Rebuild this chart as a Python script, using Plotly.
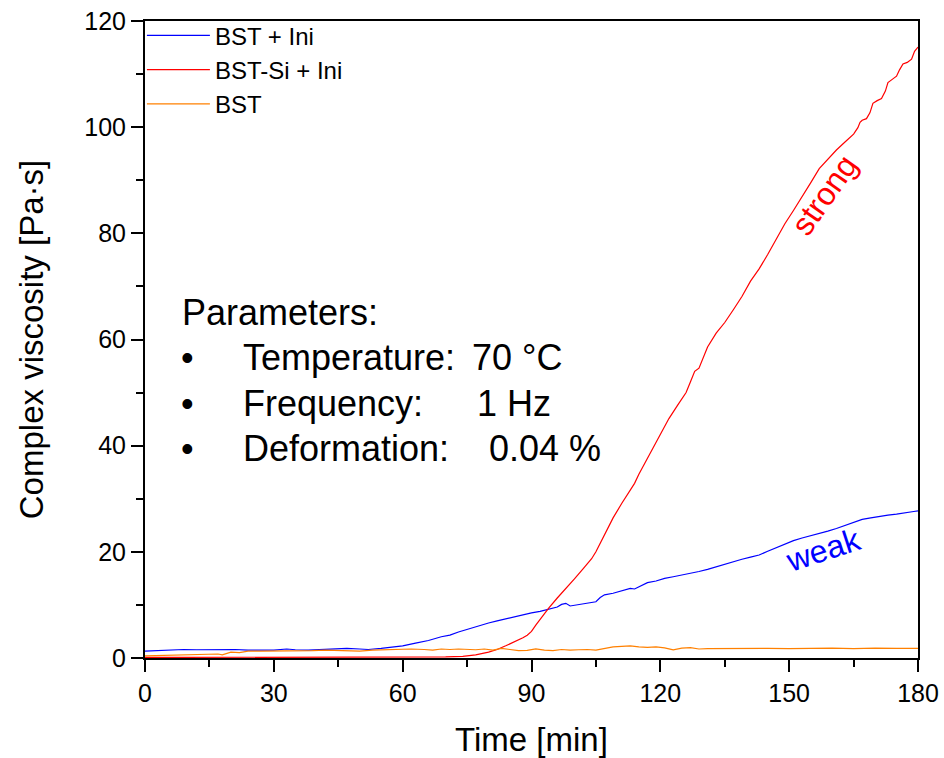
import plotly.graph_objects as go

# ---- data ----
t_blue = [0, 3, 6, 9, 12, 15, 18, 21, 24, 27, 30, 33, 35, 38, 41, 44, 47, 50, 52, 55, 57, 60,
          63, 66, 69, 71, 73, 75, 78, 80, 82, 84, 86, 88, 90, 92, 94, 96, 97, 98, 99, 101, 103,
          105, 106, 107, 109, 111, 113, 114, 115, 117, 119, 121, 123, 125, 127, 129, 131, 133,
          135, 137, 139, 141, 143, 145, 147, 149, 151, 153, 155, 157, 159, 161, 163, 165, 167,
          169, 171, 173, 175, 177, 179, 180]
v_blue = [1.3, 1.4, 1.5, 1.6, 1.55, 1.6, 1.55, 1.6, 1.5, 1.45, 1.5, 1.7, 1.55, 1.5, 1.6, 1.7,
          1.8, 1.7, 1.6, 1.8, 2.0, 2.3, 2.8, 3.3, 4.0, 4.3, 4.9, 5.4, 6.2, 6.6, 7.0, 7.4, 7.7,
          8.1, 8.5, 8.8, 9.2, 9.6, 10.1, 10.3, 9.8, 10.1, 10.3, 10.6, 11.4, 11.9, 12.2, 12.6,
          13.1, 13.0, 13.4, 14.2, 14.5, 15.0, 15.3, 15.6, 16.0, 16.3, 16.7, 17.2, 17.6, 18.1,
          18.6, 19.0, 19.4, 20.1, 20.8, 21.4, 22.1, 22.6, 23.0, 23.4, 23.9, 24.4, 25.0, 25.6,
          26.1, 26.4, 26.7, 26.9, 27.1, 27.4, 27.6, 27.7]

t_red = [0, 10, 20, 30, 40, 50, 60, 65, 70, 74, 77, 80, 82, 84, 86, 88, 89, 90, 91, 92, 94, 96,
         98, 100, 102, 104, 105, 106, 107, 109, 111, 113, 114, 115, 117, 119, 120, 122, 124, 126,
         127, 128, 129, 130, 131, 133, 135, 137, 139, 141, 143, 145, 147, 149, 151, 153, 155,
         157, 159, 161, 163, 165, 166, 166.5, 167, 168, 168.8, 169.5, 170.5, 171.5, 172.4, 173,
         174, 175, 175.7, 176.5, 177.5, 178.5, 179.2, 180]
v_red = [0.1, 0.1, 0.1, 0.1, 0.1, 0.1, 0.1, 0.15, 0.2, 0.3, 0.6, 1.1, 1.6, 2.3, 3.0, 3.8, 4.3,
         5.0, 6.2, 7.3, 9.4, 11.3, 13.0, 14.9, 16.8, 18.7, 20.0, 21.6, 23.3, 26.4, 29.1, 31.6,
         32.9, 34.6, 37.6, 40.6, 42.3, 45.1, 47.6, 50.0, 52.0, 54.0, 54.6, 56.5, 58.6, 61.2,
         63.2, 65.6, 68.1, 71.0, 73.3, 76.0, 78.8, 81.8, 84.3, 86.8, 89.5, 92.2, 94.0, 95.7,
         97.2, 98.7, 99.9, 100.9, 101.3, 101.6, 102.7, 104.5, 105.0, 105.4, 106.8, 108.4, 109.0,
         109.6, 110.8, 111.9, 112.2, 112.8, 114.3, 115.1]

t_orange = [0, 4, 8, 12, 15, 17, 18, 20, 22, 24, 27, 30, 33, 36, 39, 42, 45, 48, 50, 53, 56, 59,
            62, 65, 67, 69, 71, 73, 75, 77, 79, 81, 83, 85, 87, 89, 91, 93, 95, 97, 99, 101, 103,
            105, 107, 109, 111, 113, 115, 117, 119, 121, 123, 125, 127, 129, 131, 135, 140, 145,
            150, 155, 160, 165, 170, 175, 180]
v_orange = [0.4, 0.45, 0.5, 0.55, 0.6, 0.75, 0.6, 1.1, 1.0, 1.3, 1.3, 1.3, 1.35, 1.3, 1.4, 1.5,
            1.45, 1.4, 1.3, 1.5, 1.6, 1.65, 1.7, 1.6, 1.5, 1.7, 1.6, 1.7, 1.6, 1.55, 1.7, 1.5,
            1.8, 1.6, 1.4, 1.45, 1.7, 1.5, 1.4, 1.6, 1.5, 1.55, 1.6, 1.5, 1.8, 2.1, 2.2, 2.3,
            2.1, 2.0, 2.1, 1.9, 1.55, 1.85, 1.95, 1.7, 1.75, 1.8, 1.75, 1.8, 1.75, 1.8, 1.85,
            1.75, 1.85, 1.8, 1.8]

series_names = ["BST + Ini", "BST-Si + Ini", "BST"]
series_colors = ["#0000FF", "#FF0000", "#FF8000"]

param_labels = ["Temperature:", "Frequency:", "Deformation:"]
param_values = ["70 °C", "1 Hz", "0.04 %"]

FONT = "Liberation Sans, Arial, sans-serif"

fig = go.Figure()
for i, (t, v) in enumerate([(t_blue, v_blue), (t_red, v_red), (t_orange, v_orange)]):
    fig.add_trace(go.Scatter(x=t, y=v, mode="lines", name=series_names[i],
                             legendgroup=f"g{i}",
                             line=dict(color=series_colors[i], width=1.2)))

axis_common = dict(showline=True, linecolor="black", linewidth=2, mirror=True,
                   ticks="outside", ticklen=12, tickwidth=2, tickcolor="black",
                   showgrid=False, zeroline=False, automargin=False,
                   tickfont=dict(family=FONT, size=25, color="black"))

fig.update_xaxes(range=[0, 180], tick0=0, dtick=30,
                 minor=dict(ticks="outside", ticklen=7, tickwidth=2, tickcolor="black", dtick=15),
                 title=dict(text="Time [min]", font=dict(family=FONT, size=33, color="black"),
                            standoff=24),
                 **axis_common)
fig.update_yaxes(range=[0, 120], tick0=0, dtick=20,
                 minor=dict(ticks="outside", ticklen=7, tickwidth=2, tickcolor="black", dtick=10),
                 title=dict(text="Complex viscosity [Pa·s]",
                            font=dict(family=FONT, size=33, color="black"), standoff=31),
                 **axis_common)

PX = 773 / 180  # pixels per minute inside the plot area
ann = []
ann.append(dict(x=35 / PX, y=65.0, xref="x", yref="y", text="Parameters:",
                showarrow=False, xanchor="left", yanchor="middle",
                font=dict(family=FONT, size=36, color="black")))
ys = [56.7, 47.9, 39.4]
xv = [325 / PX, 330 / PX, 342 / PX]
for k in range(3):
    ann.append(dict(x=42 / PX, y=ys[k], xref="x", yref="y", text="•",
                    showarrow=False, xanchor="center", yanchor="middle",
                    font=dict(family=FONT, size=36, color="black")))
    ann.append(dict(x=96 / PX, y=ys[k], xref="x", yref="y", text=param_labels[k],
                    showarrow=False, xanchor="left", yanchor="middle",
                    font=dict(family=FONT, size=36, color="black")))
    ann.append(dict(x=xv[k], y=ys[k], xref="x", yref="y", text=param_values[k],
                    showarrow=False, xanchor="left", yanchor="middle",
                    font=dict(family=FONT, size=36, color="black")))

ann.append(dict(x=158.2, y=87.2, xref="x", yref="y", text="strong", showarrow=False,
                textangle=-55, font=dict(family=FONT, size=32, color="#FF0000")))
ann.append(dict(x=157.9, y=20.3, xref="x", yref="y", text="weak", showarrow=False,
                textangle=-18, font=dict(family=FONT, size=32, color="#0000FF")))

fig.update_layout(
    width=944, height=758,
    margin=dict(l=145, r=26, t=21, b=100, autoexpand=False),
    paper_bgcolor="white", plot_bgcolor="white",
    showlegend=True,
    legend=dict(x=-0.004, y=1.012, xanchor="left", yanchor="top", bgcolor="rgba(0,0,0,0)",
                font=dict(family=FONT, size=24, color="black"), traceorder="grouped",
                tracegroupgap=0, itemwidth=63),
    annotations=ann,
)

# remove the default 8px page margin so the figure fills the window exactly
fig.write_html("out.html", config={"displayModeBar": False},
               post_script="document.body.style.margin='0';document.body.style.overflow='hidden';")
